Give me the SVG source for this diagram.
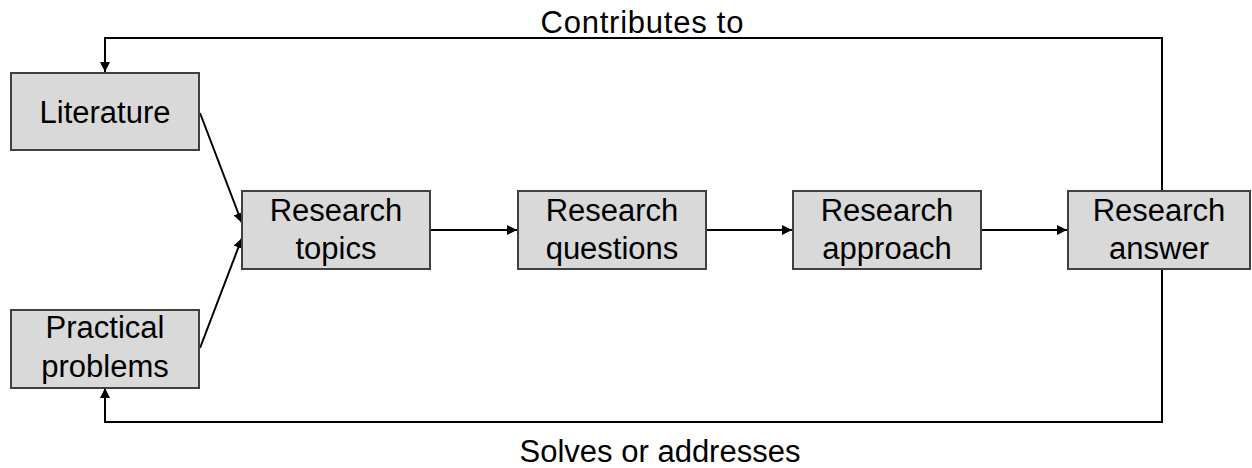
<svg xmlns="http://www.w3.org/2000/svg" width="1252" height="468" viewBox="0 0 1252 468">
<style>
.box{fill:#d9d9d9;stroke:#404040;stroke-width:2}
.t{font-family:"Liberation Sans",Arial,sans-serif;font-size:31px;fill:#000;text-anchor:middle}
.c{fill:none;stroke:#000;stroke-width:2}
</style>
<defs>
<marker id="ah" markerWidth="10" markerHeight="10" refX="10" refY="5" orient="auto" markerUnits="userSpaceOnUse">
<path d="M0,0 L10,5 L0,10 z" fill="#000"/>
</marker>
</defs>
<rect width="1252" height="468" fill="#fff"/>
<g id="connectors">
<path class="c" d="M1162,191 V38 H105 V72" marker-end="url(#ah)"/>
<path class="c" d="M1162,269 V422 H105 V388" marker-end="url(#ah)"/>
<path class="c" d="M200,113 L242,223" marker-end="url(#ah)"/>
<path class="c" d="M200,348 L242,238" marker-end="url(#ah)"/>
<path class="c" d="M430,230 H517" marker-end="url(#ah)"/>
<path class="c" d="M706,230 H792" marker-end="url(#ah)"/>
<path class="c" d="M981,230 H1067" marker-end="url(#ah)"/>
<text class="t" x="642" y="33" textLength="203" lengthAdjust="spacing">Contributes to</text>
<text class="t" x="660" y="462">Solves or addresses</text>
</g>
<g id="literature">
<rect class="box" x="11" y="73" width="188" height="77"/>
<text class="t" x="105" y="123">Literature</text>
</g>
<g id="practical">
<rect class="box" x="11" y="310" width="188" height="78"/>
<text class="t" x="105" y="338">Practical</text>
<text class="t" x="105" y="377">problems</text>
</g>
<g id="topics">
<rect class="box" x="242" y="191" width="188" height="78"/>
<text class="t" x="336" y="221">Research</text>
<text class="t" x="336" y="259">topics</text>
</g>
<g id="questions">
<rect class="box" x="518" y="191" width="188" height="78"/>
<text class="t" x="612" y="221">Research</text>
<text class="t" x="612" y="259">questions</text>
</g>
<g id="approach">
<rect class="box" x="793" y="191" width="188" height="78"/>
<text class="t" x="887" y="221">Research</text>
<text class="t" x="887" y="259">approach</text>
</g>
<g id="answer">
<rect class="box" x="1068" y="191" width="182" height="78"/>
<text class="t" x="1159" y="221">Research</text>
<text class="t" x="1159" y="259">answer</text>
</g>
</svg>
